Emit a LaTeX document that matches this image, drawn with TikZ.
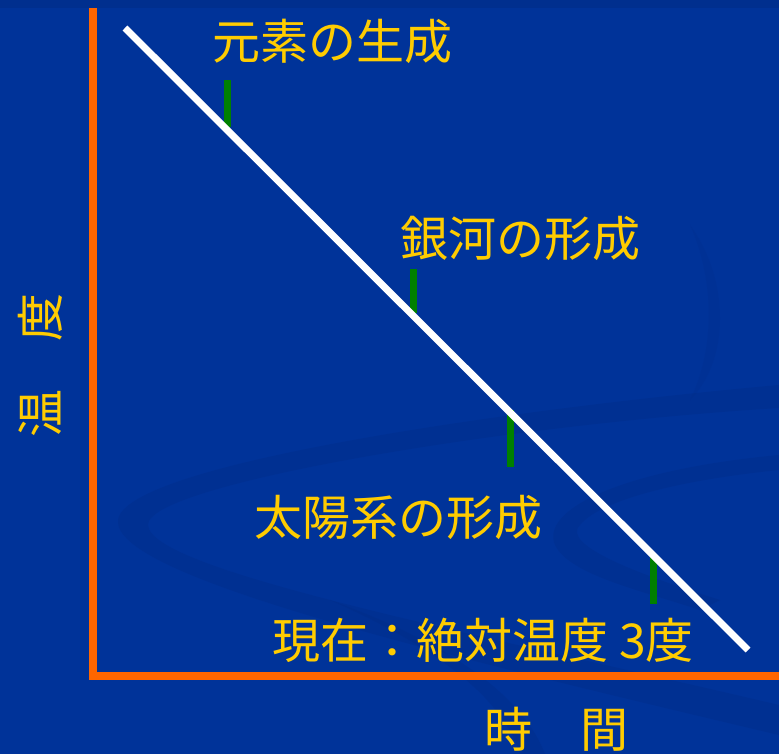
\documentclass[tikz,border=0pt]{standalone}
\usepackage{fontspec}
\newfontfamily\jpfont{Noto Sans CJK JP}
\definecolor{bgblue}{HTML}{003399}
\definecolor{swirl}{HTML}{002C85}
\definecolor{axisorange}{HTML}{FF6600}
\definecolor{tickgreen}{HTML}{008000}
\definecolor{labelyellow}{HTML}{FFCC00}
\tikzset{
  axisline/.style={draw=axisorange, line width=8pt},
  mainline/.style={draw=white, line width=7pt},
  ticklinestyle/.style={draw=tickgreen, line width=7pt},
  label/.style={text=labelyellow, font=\jpfont\fontsize{48}{48}\selectfont, inner sep=0pt},
  swirlfill/.style={fill=swirl, opacity=0.35, draw=none}
}
\begin{document}
\begin{tikzpicture}[x=1pt,y=-1pt]
\useasboundingbox (0,0) rectangle (779,754);
\fill[bgblue] (0,0) rectangle (779,754);
\fill[swirl, opacity=0.5] (0,0) rectangle (779,8);
% swirls
\path[swirlfill] (779,385) .. controls (500,410) and (125,465) .. (118,520)
  .. controls (112,575) and (420,650) .. (779,735) -- (779,705)
  .. controls (460,630) and (150,570) .. (148,525)
  .. controls (146,485) and (500,425) .. (779,408) -- cycle;
\path[swirlfill] (779,455) .. controls (620,470) and (540,510) .. (555,545)
  .. controls (570,575) and (640,590) .. (700,610) -- (720,600)
  .. controls (640,575) and (560,545) .. (580,525)
  .. controls (600,500) and (680,480) .. (779,470) -- cycle;
\path[swirlfill] (330,600) .. controls (420,640) and (500,690) .. (520,754) -- (545,754)
  .. controls (520,690) and (440,640) .. (330,600) -- cycle;
\path[swirlfill, opacity=0.2] (690,225) .. controls (730,280) and (730,360) .. (690,400)
  .. controls (715,350) and (715,280) .. (690,225) -- cycle;
% axes
\coordinate (ytop) at (93,8);
\coordinate (origin) at (93,676);
\coordinate (xend) at (779,676);
\draw[axisline] (ytop) -- (origin) -- (xend);
% ticks
\coordinate (t1a) at (227,80);  \coordinate (t1b) at (227,127);
\coordinate (t2a) at (413,269); \coordinate (t2b) at (413,313);
\coordinate (t3a) at (510,410); \coordinate (t3b) at (510,467);
\coordinate (t4a) at (653,556); \coordinate (t4b) at (653,604);
\draw[ticklinestyle] (t1a) -- (t1b);
\draw[ticklinestyle] (t2a) -- (t2b);
\draw[ticklinestyle] (t3a) -- (t3b);
\draw[ticklinestyle] (t4a) -- (t4b);
% main line
\coordinate (lstart) at (125,28);
\coordinate (lend) at (748,650);
\draw[mainline] (lstart) -- (lend);
% labels
\node[label] (l1) at (332,41) {元素の生成};
\node[label] (l2) at (520,238) {銀河の形成};
\node[label] (l3) at (398,517) {太陽系の形成};
\node[label] (l4) at (483,640) {現在：絶対温度 3度};
\node[label] (xl) at (556,729) {時　間};
\node[label, rotate=90] (yl) at (40,365) {温　度};
\end{tikzpicture}
\end{document}
